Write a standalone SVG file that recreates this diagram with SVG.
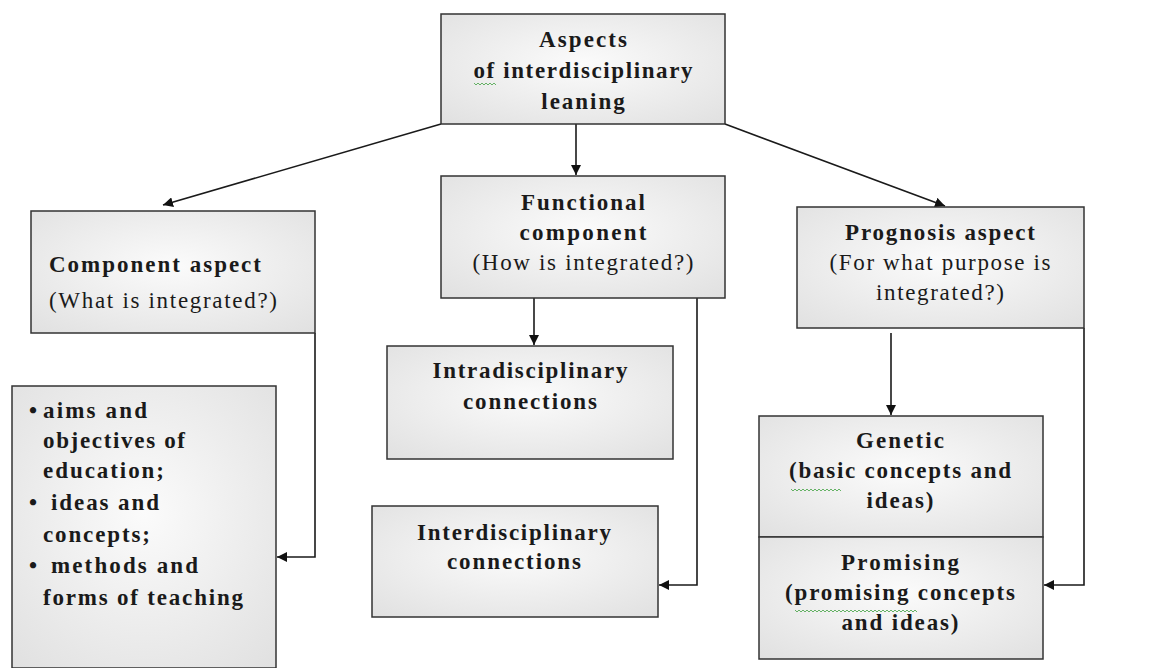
<svg xmlns="http://www.w3.org/2000/svg" width="1153" height="668" viewBox="0 0 1153 668">
<defs>
<radialGradient id="fill" cx="50%" cy="45%" r="75%">
<stop offset="0" stop-color="#fbfbfb"/>
<stop offset="1" stop-color="#e0e0e0"/>
</radialGradient>
<marker id="arr" viewBox="0 0 10 10" refX="10" refY="5" markerWidth="10" markerHeight="10" markerUnits="userSpaceOnUse" orient="auto">
<path d="M0,0 L10,5 L0,10 z" fill="#111"/>
</marker>
</defs>
<style>
.box{fill:url(#fill);stroke:#333;stroke-width:1.5}
.t{font-family:'Liberation Serif','Times New Roman',serif;font-size:23px;fill:#1a1a1a}
.b{font-weight:bold}
.c{text-anchor:middle}
.con{fill:none;stroke:#1a1a1a;stroke-width:1.6}
.wave{fill:none;stroke:#5a5;stroke-width:0.9}
</style>
<rect width="1153" height="668" fill="#fff"/>

<g id="connectors">
<line class="con" x1="441" y1="124" x2="163" y2="205" marker-end="url(#arr)"/>
<line class="con" x1="576" y1="124" x2="576" y2="175" marker-end="url(#arr)"/>
<line class="con" x1="725" y1="124" x2="945" y2="206" marker-end="url(#arr)"/>
<polyline class="con" points="315,333 315,557 277,557" marker-end="url(#arr)"/>
<line class="con" x1="534" y1="298" x2="534" y2="345" marker-end="url(#arr)"/>
<polyline class="con" points="697,298 697,585 659,585" marker-end="url(#arr)"/>
<line class="con" x1="891" y1="333" x2="891" y2="415" marker-end="url(#arr)"/>
<polyline class="con" points="1084,328 1084,585 1044,585" marker-end="url(#arr)"/>
</g>

<g id="aspects">
<rect class="box" x="441" y="14" width="284" height="110"/>
<text class="t b c" x="583" y="47" textLength="88">Aspects</text>
<text class="t b c" x="583" y="78" textLength="219">of interdisciplinary</text>
<text class="t b c" x="583" y="109" textLength="83.5">leaning</text>
<path class="wave" d="M474,83 l2,2 l2,-2 l2,2 l2,-2 l2,2 l2,-2 l2,2 l2,-2 l2,2 l2,-2 l2,2"/>
</g>

<g id="component">
<rect class="box" x="31" y="211" width="284" height="122"/>
<text class="t b" x="49" y="272" textLength="212">Component aspect</text>
<text class="t" x="49" y="308" textLength="228">(What is integrated?)</text>
</g>

<g id="functional">
<rect class="box" x="441" y="176" width="284" height="122"/>
<text class="t b c" x="583" y="210" textLength="124">Functional</text>
<text class="t b c" x="583" y="240" textLength="127">component</text>
<text class="t c" x="583" y="270" textLength="221">(How is integrated?)</text>
</g>

<g id="prognosis">
<rect class="box" x="797" y="207" width="287" height="121"/>
<text class="t b c" x="940" y="240" textLength="190">Prognosis aspect</text>
<text class="t c" x="940" y="270" textLength="221">(For what purpose is</text>
<text class="t c" x="940" y="300" textLength="128">integrated?)</text>
</g>

<g id="list">
<rect class="box" x="12" y="386" width="264" height="282"/>
<text class="t b" x="29" y="418">•</text>
<text class="t b" x="43" y="418" textLength="104">aims and</text>
<text class="t b" x="43" y="448" textLength="142">objectives of</text>
<text class="t b" x="43" y="478" textLength="121">education;</text>
<text class="t b" x="29" y="510">•</text>
<text class="t b" x="51" y="510" textLength="108">ideas and</text>
<text class="t b" x="43" y="542" textLength="107">concepts;</text>
<text class="t b" x="29" y="573">•</text>
<text class="t b" x="51" y="573" textLength="147">methods and</text>
<text class="t b" x="43" y="605" textLength="200">forms of teaching</text>
</g>

<g id="intradisciplinary">
<rect class="box" x="387" y="346" width="286" height="113"/>
<text class="t b c" x="530" y="378" textLength="195">Intradisciplinary</text>
<text class="t b c" x="530" y="409" textLength="134">connections</text>
</g>

<g id="interdisciplinary">
<rect class="box" x="372" y="506" width="286" height="111"/>
<text class="t b c" x="514" y="540" textLength="194">Interdisciplinary</text>
<text class="t b c" x="514" y="569" textLength="134">connections</text>
</g>

<g id="genetic">
<rect class="box" x="759" y="416" width="284" height="121"/>
<text class="t b c" x="900" y="448" textLength="88">Genetic</text>
<text class="t b c" x="900" y="478" textLength="222">(basic concepts and</text>
<text class="t b c" x="900" y="508" textLength="67">ideas)</text>
<path class="wave" d="M791,489 l2,2 l2,-2 l2,2 l2,-2 l2,2 l2,-2 l2,2 l2,-2 l2,2 l2,-2 l2,2 l2,-2 l2,2 l2,-2 l2,2 l2,-2 l2,2 l2,-2 l2,2 l2,-2 l2,2 l2,-2 l2,2 l2,-2 l2,2"/>
</g>

<g id="promising">
<rect class="box" x="759" y="537" width="284" height="122"/>
<text class="t b c" x="900" y="570" textLength="118">Promising</text>
<text class="t b c" x="900" y="600" textLength="230">(promising concepts</text>
<text class="t b c" x="900" y="630" textLength="117">and ideas)</text>
<path class="wave" d="M795,610 l2,2 l2,-2 l2,2 l2,-2 l2,2 l2,-2 l2,2 l2,-2 l2,2 l2,-2 l2,2 l2,-2 l2,2 l2,-2 l2,2 l2,-2 l2,2 l2,-2 l2,2 l2,-2 l2,2 l2,-2 l2,2 l2,-2 l2,2 l2,-2 l2,2 l2,-2 l2,2 l2,-2 l2,2 l2,-2 l2,2 l2,-2 l2,2 l2,-2 l2,2 l2,-2 l2,2 l2,-2 l2,2 l2,-2 l2,2 l2,-2 l2,2 l2,-2 l2,2 l2,-2 l2,2 l2,-2 l2,2 l2,-2 l2,2 l2,-2 l2,2 l2,-2 l2,2 l2,-2 l2,2 l2,-2 l2,2"/>
</g>
</svg>
